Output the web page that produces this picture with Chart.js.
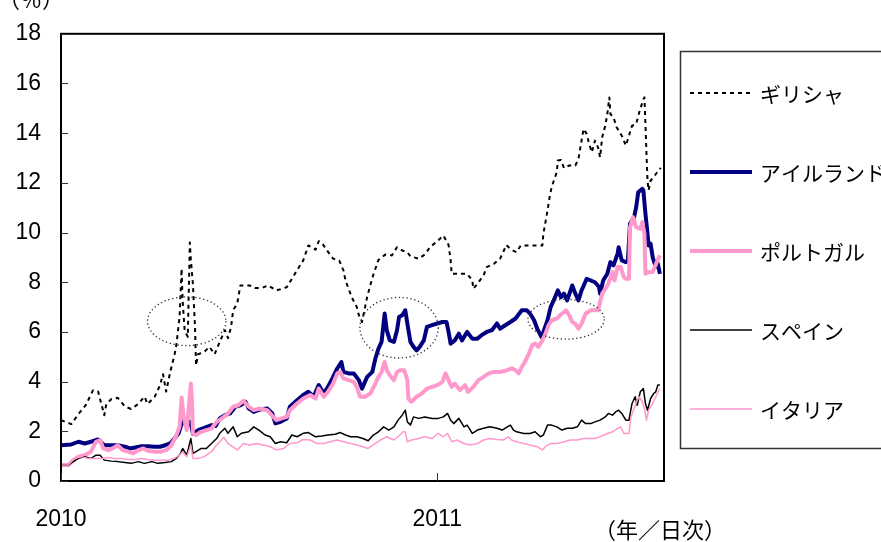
<!DOCTYPE html>
<html>
<head>
<meta charset="utf-8">
<script src="https://cdn.jsdelivr.net/npm/chart.js@4.4.1/dist/chart.umd.min.js"></script>
<style>
  html, body { margin: 0; padding: 0; background: #fff; }
  #wrap { position: relative; width: 881px; height: 542px; overflow: hidden; }
</style>
</head>
<body>
<div id="wrap"><canvas id="chart" width="881" height="542"></canvas></div>
<script>
// Daily series for five euro-area countries, in percent.
// x values are days counted from 1 January 2010.

const seriesNames = ['ギリシャ', 'アイルランド', 'ポルトガル', 'スペイン', 'イタリア'];

const yearLabels = ['2010', '2011'];
const yearStartDays = [0, 365];

const greeceDays = [
  0, 10, 17, 24, 31, 36, 42, 44, 49, 55,
  62, 68, 75, 81, 84, 91, 96, 99, 102, 106,
  110, 112, 115, 117, 118, 120, 123, 125, 126, 128,
  130, 131, 133, 139, 144, 149, 154, 159, 162, 165,
  167, 171, 174, 183, 188, 195, 201, 209, 219, 224,
  229, 235, 240, 247, 250, 253, 258, 264, 270, 274,
  276, 282, 287, 289, 292, 297, 300, 303, 308, 315,
  321, 326, 331, 336, 339, 347, 353, 358, 365, 371,
  376, 378, 379, 387, 394, 399, 400, 404, 410, 413,
  420, 426, 429, 432, 437, 442, 446, 452, 460, 467,
  468, 472, 474, 476, 481, 482, 485, 488, 493, 499,
  502, 505, 507, 510, 512, 515, 518, 521, 523, 525,
  528, 530, 532, 533, 536, 539, 544, 548, 551, 554,
  558, 561, 565, 566, 567, 568, 569, 570, 572, 576,
  580, 582
];
const greeceValues = [
  2.45, 2.29, 2.7, 3.05, 3.65, 3.6, 2.65, 3.1, 3.3, 3.35,
  3.0, 2.9, 3.1, 3.4, 3.1, 3.4, 3.85, 4.3, 3.6, 4.4,
  5.05, 5.5, 6.6, 8.55, 7.25, 6.05, 5.8, 9.6, 8.9, 7.9,
  6.2, 4.65, 5.1, 5.2, 5.4, 5.1, 5.6, 6.07, 5.75, 6.2,
  6.87, 7.15, 7.87, 7.87, 7.77, 7.77, 7.87, 7.67, 7.8, 8.14,
  8.48, 8.88, 9.48, 9.31, 9.65, 9.59, 9.28, 8.95, 8.87, 8.48,
  8.08, 7.4, 7.0, 6.67, 6.4, 7.4, 7.87, 8.3, 8.9, 9.12,
  9.08, 9.41, 9.28, 9.21, 9.04, 8.95, 9.12, 9.41, 9.65, 9.88,
  9.5, 8.88, 8.34, 8.34, 8.34, 8.08, 7.74, 7.94, 8.28, 8.61,
  8.74, 8.95, 9.21, 9.5, 9.3, 9.21, 9.48, 9.48, 9.48, 9.48,
  9.95, 10.89, 11.42, 11.83, 12.43, 12.9, 12.92, 12.6, 12.7, 12.7,
  12.96, 13.7, 14.17, 13.97, 13.63, 13.23, 13.7, 13.43, 13.03, 13.83,
  14.3, 14.77, 15.44, 14.77, 14.64, 14.24, 13.9, 13.5, 13.9, 14.3,
  14.37, 14.84, 15.37, 15.44, 14.37, 13.17, 12.09, 11.7, 12.09, 12.29,
  12.52, 12.6
];

const irelandDays = [
  0, 10, 17, 23, 29, 36, 42, 49, 55, 62,
  67, 72, 78, 84, 91, 96, 101, 106, 110, 114,
  117, 119, 122, 124, 126, 128, 133, 139, 146, 150,
  154, 159, 164, 169, 174, 179, 182, 187, 193, 200,
  205, 208, 213, 219, 222, 229, 235, 240, 245, 250,
  255, 259, 264, 268, 272, 274, 279, 284, 289, 292,
  297, 302, 305, 308, 311, 314, 316, 319, 323, 326,
  328, 331, 334, 336, 339, 342, 345, 348, 352, 355,
  360, 365, 370, 374, 376, 378, 382, 386, 389, 394,
  399, 404, 408, 413, 418, 423, 426, 431, 436, 441,
  447, 452, 455, 459, 462, 466, 468, 472, 475, 478,
  482, 485, 488, 491, 496, 499, 502, 505, 510, 514,
  518, 522, 523, 526, 530, 533, 536, 540, 541, 544,
  548, 550, 552, 556, 558, 560, 564, 565, 567, 569,
  570, 572, 574, 577, 579, 581
];
const irelandValues = [
  1.44, 1.47, 1.58, 1.51, 1.58, 1.67, 1.44, 1.44, 1.44, 1.38,
  1.31, 1.35, 1.4, 1.4, 1.38, 1.38, 1.44, 1.51, 1.71, 1.91,
  2.3, 2.4, 2.25, 2.4, 2.3, 1.9, 2.05, 2.14, 2.25, 2.21,
  2.52, 2.65, 2.72, 2.99, 3.05, 3.19, 2.92, 2.78, 2.88, 2.92,
  2.72, 2.32, 2.38, 2.52, 2.99, 3.25, 3.46, 3.59, 3.39, 3.86,
  3.52, 3.79, 4.19, 4.53, 4.79, 4.39, 4.33, 4.33, 4.06, 3.72,
  4.19, 4.39, 4.93, 5.33, 5.6, 6.74, 6.07, 5.66, 5.6, 6.07,
  6.6, 6.67, 6.87, 6.34, 5.6, 5.4, 5.26, 5.4, 5.66, 6.2,
  6.27, 6.34, 6.4, 6.4, 6.0, 5.53, 5.66, 5.93, 5.66, 6.0,
  5.73, 5.73, 5.87, 6.0, 6.07, 6.34, 6.13, 6.27, 6.4, 6.54,
  6.87, 6.87, 6.74, 6.47, 6.13, 5.8, 6.0, 6.47, 7.0, 7.27,
  7.67, 7.4, 7.54, 7.27, 7.87, 7.54, 7.27, 7.67, 8.14, 8.07,
  8.0, 7.81, 7.54, 8.07, 8.34, 8.81, 8.68, 9.15, 9.41, 8.88,
  8.81, 8.88, 10.35, 10.62, 11.02, 11.62, 11.76, 11.69, 10.75, 9.95,
  9.48, 9.55, 9.01, 8.61, 8.75, 8.34
];

const portugalDays = [
  0, 7, 12, 17, 23, 29, 34, 38, 41, 46,
  50, 55, 60, 65, 70, 75, 80, 84, 91, 97,
  102, 107, 112, 115, 117, 119, 122, 124, 126, 127,
  128, 131, 136, 141, 146, 151, 158, 162, 167, 172,
  177, 182, 187, 193, 200, 206, 209, 214, 219, 222,
  229, 235, 242, 247, 250, 255, 259, 264, 268, 271,
  274, 279, 284, 287, 290, 295, 300, 305, 308, 311,
  314, 316, 319, 323, 326, 329, 333, 336, 337, 340,
  345, 350, 355, 360, 365, 370, 373, 376, 379, 382,
  387, 392, 395, 400, 405, 410, 415, 420, 426, 433,
  437, 441, 444, 447, 450, 454, 457, 460, 463, 467,
  470, 473, 476, 481, 484, 488, 490, 493, 496, 499,
  502, 505, 509, 514, 518, 521, 525, 528, 531, 535,
  537, 540, 543, 546, 548, 551, 552, 555, 558, 562,
  564, 566, 567, 570, 574, 576, 578, 581
];
const portugalValues = [
  0.64, 0.64, 0.84, 0.98, 1.04, 1.18, 1.58, 1.65, 1.31, 1.24,
  1.31, 1.44, 1.24, 1.18, 1.11, 1.24, 1.31, 1.22, 1.18, 1.18,
  1.24, 1.44, 1.85, 2.18, 3.36, 2.58, 2.05, 2.98, 3.92, 3.25,
  1.91, 1.85, 1.98, 2.05, 2.11, 2.38, 2.58, 2.72, 2.99, 3.05,
  3.23, 2.99, 2.85, 2.92, 2.85, 2.58, 2.45, 2.52, 2.58, 2.85,
  3.12, 3.32, 3.46, 3.32, 3.72, 3.39, 3.59, 3.92, 4.33, 4.39,
  4.13, 4.06, 3.99, 3.79, 3.39, 3.39, 3.52, 3.92, 4.19, 4.39,
  4.79, 4.46, 4.26, 4.06, 4.39, 4.46, 4.46, 4.06, 3.32, 3.19,
  3.39, 3.52, 3.72, 3.79, 3.86, 3.99, 4.33, 4.06, 3.79, 3.92,
  3.66, 3.86, 3.59, 3.79, 4.06, 4.19, 4.33, 4.39, 4.39, 4.46,
  4.53, 4.46, 4.33, 4.59, 4.79, 5.13, 5.46, 5.53, 5.4, 5.66,
  5.93, 6.27, 6.47, 6.54, 6.67, 6.8, 6.87, 6.67, 6.4, 6.33,
  6.13, 6.33, 6.74, 6.87, 6.87, 6.87, 7.54, 7.74, 7.94, 8.41,
  8.07, 8.61, 8.61, 8.21, 8.14, 8.14, 10.2, 10.62, 10.22, 10.15,
  10.42, 9.95, 8.34, 8.41, 8.41, 8.61, 8.81, 9.08
];

const spainDays = [
  0, 7, 12, 17, 23, 29, 34, 38, 42, 49,
  55, 62, 68, 75, 81, 88, 94, 101, 107, 112,
  116, 118, 122, 126, 128, 131, 136, 141, 146, 151,
  154, 159, 162, 167, 171, 175, 182, 187, 192, 198,
  203, 208, 213, 219, 224, 229, 235, 240, 247, 253,
  259, 266, 271, 276, 281, 287, 293, 298, 303, 308,
  313, 318, 323, 327, 331, 334, 336, 339, 342, 347,
  353, 360, 366, 371, 375, 378, 381, 386, 391, 394,
  399, 404, 410, 416, 423, 428, 433, 436, 439, 442,
  449, 455, 460, 465, 468, 472, 476, 481, 486, 491,
  496, 501, 505, 509, 514, 518, 523, 528, 531, 535,
  538, 541, 544, 548, 551, 554, 557, 559, 562, 565,
  567, 569, 572, 575, 577, 579, 581
];
const spainValues = [
  0.64, 0.64, 0.78, 0.91, 0.98, 0.91, 1.04, 1.04, 0.84, 0.8,
  0.78, 0.74, 0.71, 0.78, 0.71, 0.78, 0.71, 0.74, 0.78, 0.91,
  1.11, 1.31, 1.04, 1.71, 1.11, 1.18, 1.31, 1.31, 1.51, 1.71,
  1.92, 2.12, 1.92, 2.18, 1.78, 1.92, 1.98, 2.18, 2.05, 1.85,
  1.78, 1.51, 1.58, 1.54, 1.85, 1.78, 1.92, 1.95, 1.78, 1.81,
  1.85, 1.88, 1.95, 1.85, 1.78, 1.78, 1.71, 1.62, 1.85, 1.98,
  2.18, 2.05, 2.18, 2.45, 2.65, 2.85, 2.38, 2.25, 2.58, 2.52,
  2.58, 2.52, 2.52, 2.58, 2.72, 2.45, 2.31, 2.52, 2.18, 2.25,
  1.92, 2.05, 2.12, 2.18, 2.12, 2.05, 2.18, 2.25, 2.05, 1.98,
  1.91, 1.91, 1.98, 1.78, 1.85, 2.25, 2.25, 2.18, 2.05, 2.12,
  2.12, 2.18, 2.45, 2.31, 2.31, 2.38, 2.45, 2.58, 2.72, 2.65,
  2.78, 2.85, 2.72, 2.45, 2.45, 3.12, 3.39, 3.05, 3.59, 3.72,
  3.12, 2.85, 3.32, 3.52, 3.59, 3.86, 3.86
];

const italyDays = [
  0, 7, 13, 20, 26, 33, 39, 46, 52, 59,
  65, 72, 78, 84, 91, 97, 104, 110, 115, 118,
  122, 126, 128, 133, 139, 146, 151, 158, 162, 171,
  177, 183, 190, 196, 203, 209, 216, 222, 229, 235,
  242, 248, 255, 261, 268, 274, 281, 287, 293, 298,
  305, 310, 316, 323, 327, 332, 334, 336, 340, 347,
  353, 360, 366, 371, 375, 379, 384, 391, 397, 404,
  410, 416, 423, 429, 434, 437, 442, 449, 455, 462,
  467, 470, 475, 481, 488, 494, 501, 507, 514, 518,
  523, 530, 535, 540, 543, 546, 551, 553, 556, 559,
  561, 564, 566, 568, 570, 574, 577, 580, 581
];
const italyValues = [
  0.64, 0.64, 0.91, 0.98, 0.91, 0.91, 0.91, 0.95, 0.91, 0.91,
  0.87, 0.87, 0.91, 0.87, 0.84, 0.84, 0.84, 0.91, 1.04, 1.18,
  0.98, 1.44, 0.91, 0.91, 0.98, 1.18, 1.45, 1.75, 1.51, 1.25,
  1.51, 1.45, 1.51, 1.45, 1.38, 1.25, 1.31, 1.51, 1.54, 1.67,
  1.65, 1.51, 1.51, 1.58, 1.65, 1.58, 1.51, 1.45, 1.38, 1.31,
  1.51, 1.65, 1.78, 1.65, 1.78, 1.98, 1.98, 1.58, 1.65, 1.71,
  1.78, 1.71, 1.92, 1.78, 1.92, 1.58, 1.65, 1.51, 1.45, 1.51,
  1.65, 1.71, 1.67, 1.65, 1.78, 1.65, 1.58, 1.51, 1.45, 1.38,
  1.25, 1.38, 1.51, 1.51, 1.58, 1.65, 1.65, 1.71, 1.71, 1.71,
  1.78, 1.91, 1.98, 2.12, 2.18, 1.91, 1.91, 2.58, 2.92, 3.25,
  3.39, 3.19, 2.92, 2.45, 2.85, 3.12, 3.39, 3.65, 3.72
];

// Dotted rings marking three episodes (centre and half-widths in data units).
const rings = [
  { day: 122, value: 6.43, daySpan: 38, valueSpan: 0.98 },
  { day: 328, value: 6.17, daySpan: 38, valueSpan: 1.22 },
  { day: 490, value: 6.51, daySpan: 37, valueSpan: 0.80 }
];

function pairUp(days, values) {
  return days.map((d, i) => ({ x: d, y: values[i] }));
}

const NAVY = '#000080';
const PINK = '#FF99CC';

const datasets = [
  { label: seriesNames[0], data: pairUp(greeceDays, greeceValues), borderColor: '#000000', borderWidth: 2, borderDash: [4, 4], order: 5 },
  { label: seriesNames[1], data: pairUp(irelandDays, irelandValues), borderColor: NAVY, borderWidth: 4, order: 4 },
  { label: seriesNames[2], data: pairUp(portugalDays, portugalValues), borderColor: PINK, borderWidth: 4, order: 3 },
  { label: seriesNames[3], data: pairUp(spainDays, spainValues), borderColor: '#000000', borderWidth: 1.5, order: 2 },
  { label: seriesNames[4], data: pairUp(italyDays, italyValues), borderColor: PINK, borderWidth: 1.5, order: 1 }
].map(ds => Object.assign({
  pointRadius: 0,
  tension: 0,
  fill: false,
  borderJoinStyle: 'round',
  borderCapStyle: 'butt'
}, ds));

// Box round the plot plus inward tick marks.
const framePlugin = {
  id: 'frame',
  afterDatasetsDraw(chart) {
    const { ctx, chartArea: a, scales: { x, y } } = chart;
    ctx.save();
    ctx.strokeStyle = '#000';
    ctx.lineWidth = 2;
    ctx.strokeRect(a.left, a.top, a.right - a.left, a.bottom - a.top);
    ctx.lineWidth = 1;
    ctx.strokeStyle = '#333';
    ctx.beginPath();
    y.ticks.forEach(t => {
      const py = Math.round(y.getPixelForValue(t.value)) + 0.5;
      ctx.moveTo(a.left, py);
      ctx.lineTo(a.left + 7, py);
    });
    x.ticks.forEach(t => {
      const px = Math.round(x.getPixelForValue(t.value)) + 0.5;
      ctx.moveTo(px, a.bottom);
      ctx.lineTo(px, a.bottom - 8);
    });
    ctx.stroke();
    ctx.restore();
  }
};

const ringPlugin = {
  id: 'rings',
  afterDatasetsDraw(chart) {
    const { ctx, scales: { x, y } } = chart;
    ctx.save();
    ctx.strokeStyle = '#333';
    ctx.lineWidth = 1.3;
    ctx.setLineDash([1.3, 2.6]);
    rings.forEach(r => {
      const cx = x.getPixelForValue(r.day);
      const cy = y.getPixelForValue(r.value);
      const rx = Math.abs(x.getPixelForValue(r.day + r.daySpan) - cx);
      const ry = Math.abs(y.getPixelForValue(r.value + r.valueSpan) - cy);
      ctx.beginPath();
      ctx.ellipse(cx, cy, rx, ry, 0, 0, Math.PI * 2);
      ctx.stroke();
    });
    ctx.restore();
  }
};

// Legend box on the right and the unit captions.
const keyPlugin = {
  id: 'key',
  afterDraw(chart) {
    const ctx = chart.ctx;
    ctx.save();
    ctx.strokeStyle = '#333';
    ctx.lineWidth = 1.5;
    ctx.strokeRect(680.5, 51.5, 260, 397);
    chart.data.datasets.forEach((ds, i) => {
      const yy = 93 + i * 79;
      ctx.strokeStyle = ds.borderColor;
      ctx.lineWidth = ds.borderWidth;
      ctx.setLineDash(ds.borderDash || []);
      ctx.beginPath();
      ctx.moveTo(690, yy);
      ctx.lineTo(752, yy);
      ctx.stroke();
      ctx.setLineDash([]);
      ctx.fillStyle = '#000';
      ctx.font = '21px "Noto Sans CJK JP"';
      ctx.textBaseline = 'middle';
      ctx.textAlign = 'left';
      ctx.fillText(ds.label, 760, yy + 1);
    });
    ctx.font = '22px "Noto Sans CJK JP"';
    ctx.textBaseline = 'alphabetic';
    ctx.fillText('（％）', -2, 7);
    ctx.fillText('（年／日次）', 594, 538);
    ctx.restore();
  }
};

new Chart(document.getElementById('chart'), {
  type: 'line',
  data: { datasets },
  options: {
    responsive: false,
    animation: false,
    events: [],
    layout: { padding: { top: 33, right: 217, left: 0, bottom: 0 } },
    plugins: { legend: { display: false }, tooltip: { enabled: false } },
    scales: {
      x: {
        type: 'linear',
        min: 0,
        max: 585,
        grid: { display: false, drawTicks: false },
        border: { display: false },
        afterBuildTicks(axis) { axis.ticks = yearStartDays.map(v => ({ value: v })); },
        afterFit(axis) { axis.height = 61; },
        ticks: {
          autoSkip: false,
          maxRotation: 0,
          padding: 25,
          color: '#000',
          font: { family: '"Liberation Sans", Arial, sans-serif', size: 23 },
          callback: v => yearLabels[yearStartDays.indexOf(v)]
        }
      },
      y: {
        min: 0,
        max: 18,
        grid: { display: false, drawTicks: false },
        border: { display: false },
        afterFit(axis) { axis.width = 61; },
        ticks: {
          stepSize: 2,
          padding: 20,
          color: '#000',
          font: { family: '"Liberation Sans", Arial, sans-serif', size: 23 }
        }
      }
    }
  },
  plugins: [framePlugin, ringPlugin, keyPlugin]
});
</script>
</body>
</html>
